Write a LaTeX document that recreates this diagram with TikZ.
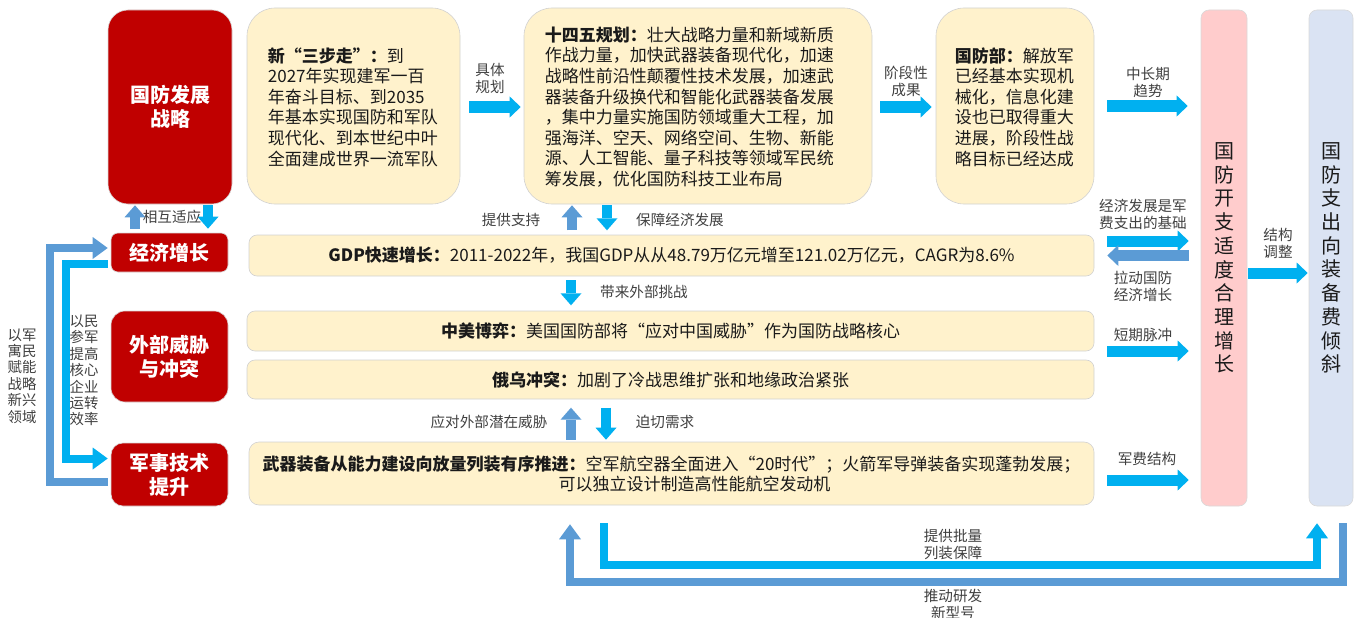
\documentclass[tikz,border=0pt]{standalone}
\usepackage{fontspec}
\setmainfont{Noto Sans CJK SC}
\usetikzlibrary{arrows.meta,calc}
\definecolor{cred}{HTML}{C00000}
\definecolor{cream}{HTML}{FFF2CC}
\definecolor{cyanb}{HTML}{00B0F0}
\definecolor{steel}{HTML}{5B9BD5}
\definecolor{pinkb}{HTML}{FFCCCC}
\definecolor{lavb}{HTML}{DAE3F3}
\definecolor{txt}{HTML}{1A1A1A}
\definecolor{lbl}{HTML}{404040}
\begin{document}
\begin{tikzpicture}[x=1pt,y=-1pt,
  redbox/.style={fill=cred, draw=black!15, line width=0.6pt, text=white, font=\bfseries\fontsize{20}{24}\selectfont, align=center, inner sep=0pt},
  creambox/.style={fill=cream, draw=black!18, line width=0.6pt, inner sep=0pt, text=txt, font=\fontsize{17}{20}\selectfont, align=center},
  bodytext/.style={text=txt, font=\fontsize{17}{20.6}\selectfont, align=left, inner sep=0pt},
  lab/.style={text=lbl, font=\fontsize{14.6}{17}\selectfont, align=center, inner sep=0pt},
  vlab/.style={text=lbl, font=\fontsize{14.4}{16.4}\selectfont, align=center, inner sep=0pt},
  bar/.style={draw=black!15, line width=0.6pt, rounded corners=8pt, inner sep=0pt, font=\fontsize{20}{23.7}\selectfont, text=txt, align=center},
  harrowc/.style={draw=cyanb, line width=11pt, -{Triangle[length=11pt,width=21pt,line width=0pt]}},
  harrows/.style={draw=steel, line width=11pt, -{Triangle[length=11pt,width=21pt,line width=0pt]}},
  varrowc/.style={draw=cyanb, line width=10pt, -{Triangle[length=12pt,width=21pt,line width=0pt]}},
  varrows/.style={draw=steel, line width=10pt, -{Triangle[length=12pt,width=21pt,line width=0pt]}},
  loopc/.style={draw=cyanb, line width=8pt, -{Triangle[length=15pt,width=22pt,line width=0pt]}},
  loops/.style={draw=steel, line width=8pt, -{Triangle[length=15pt,width=22pt,line width=0pt]}},
]
\useasboundingbox (0,0) rectangle (1361,618);

% red boxes
\node[redbox, minimum width=124pt, minimum height=194pt, rounded corners=20pt] (strat) at (170,107) {国防发展\\战略};
\node[redbox, minimum width=117pt, minimum height=39pt, rounded corners=7pt] (econ) at (169.5,252.5) {经济增长};
\node[redbox, minimum width=117pt, minimum height=91pt, rounded corners=14pt] (threat) at (169.5,356.5) {外部威胁\\与冲突};
\node[redbox, minimum width=117pt, minimum height=63pt, rounded corners=12pt] (tech) at (169.5,474.5) {军事技术\\提升};

% cream top boxes
\node[creambox, minimum width=213pt, minimum height=196pt, rounded corners=28pt] (s3) at (353.5,106) {};
\node[creambox, minimum width=348pt, minimum height=196pt, rounded corners=28pt] (plan) at (698,106) {};
\node[creambox, minimum width=158pt, minimum height=196pt, rounded corners=28pt] (mod) at (1015,106) {};
\node[bodytext, anchor=west] (s3t) at ($(s3.west)+(21,1)$) {\textbf{新“三步走”：}到\\2027年实现建军一百\\年奋斗目标、到2035\\年基本实现国防和军队\\现代化、到本世纪中叶\\全面建成世界一流军队};
\node[bodytext, anchor=west] (plant) at ($(plan.west)+(21,1)$) {\textbf{十四五规划：}壮大战略力量和新域新质\\作战力量，加快武器装备现代化，加速\\战略性前沿性颠覆性技术发展，加速武\\器装备升级换代和智能化武器装备发展\\，集中力量实施国防领域重大工程，加\\强海洋、空天、网络空间、生物、新能\\源、人工智能、量子科技等领域军民统\\筹发展，优化国防科技工业布局};
\node[bodytext, anchor=west] (modt) at ($(mod.west)+(19,1)$) {\textbf{国防部：}解放军\\已经基本实现机\\械化，信息化建\\设也已取得重大\\进展，阶段性战\\略目标已经达成};

% cream rows
\node[creambox, minimum width=845pt, minimum height=41pt, rounded corners=8pt] (gdp) at (671.5,255.5) {\textbf{GDP快速增长：}2011-2022年，我国GDP从从48.79万亿元增至121.02万亿元，CAGR为8.6\%};
\node[creambox, minimum width=847pt, minimum height=40pt, rounded corners=8pt] (usch) at (670.5,331) {\textbf{中美博弈：}美国国防部将“应对中国威胁”作为国防战略核心};
\node[creambox, minimum width=847pt, minimum height=39pt, rounded corners=8pt] (ruua) at (670.5,379.5) {\textbf{俄乌冲突：}加剧了冷战思维扩张和地缘政治紧张};
\node[creambox, minimum width=845pt, minimum height=63pt, rounded corners=10pt] (weap) at (671.5,473.5) {\textbf{武器装备从能力建设向放量列装有序推进：}空军航空器全面进入“20时代”；火箭军导弹装备实现蓬勃发展；\\\hspace*{46pt}可以独立设计制造高性能航空发动机};

% bars
\node[bar, fill=pinkb, minimum width=46pt, minimum height=496pt] (pink) at (1224,258) {国\\防\\开\\支\\适\\度\\合\\理\\增\\长};
\node[bar, fill=lavb, minimum width=44pt, minimum height=496pt] (lav) at (1331,258) {国\\防\\支\\出\\向\\装\\备\\费\\倾\\斜};

% horizontal block arrows
\draw[harrowc] ($(s3.east)+(9,1)$) -- ($(plan.west)+(-3,1)$);
\draw[harrowc] ($(plan.east)+(8,1)$) -- ($(mod.west)+(-4,1)$);
\draw[harrowc] ($(mod.east)+(13,0)$) -- ($(pink.west|-mod.east)+(-13,0)$);
\draw[harrowc] ($(gdp.east)+(13,-14.5)$) -- ($(pink.west|-gdp.east)+(-12,-14.5)$);
\draw[harrows] ($(pink.west|-gdp.east)+(-12,0)$) -- ($(gdp.east)+(13,0)$);
\draw[harrowc] ($(pink.east)+(1,15)$) -- ($(lav.west)+(-1,15)$);
\draw[harrowc] ($(usch.east)+(13,20)$) -- ($(pink.west|-usch.east)+(-12,20)$);
\draw[harrowc] ($(weap.east)+(13,6.5)$) -- ($(pink.west|-weap.east)+(-12,6.5)$);

% vertical arrows
\draw[varrows] ($(plan.south)+(-126,26)$) -- ($(plan.south)+(-126,1)$);
\draw[varrowc] ($(plan.south)+(-91,1)$) -- ($(plan.south)+(-91,26)$);
\draw[varrowc] ($(gdp.south)+(-100.5,4)$) -- ($(gdp.south)+(-100.5,29)$);
\draw[varrows] ($(weap.north)+(-100.5,-2)$) -- ($(weap.north)+(-100.5,-34)$);
\draw[varrowc] ($(weap.north)+(-65.5,-34)$) -- ($(weap.north)+(-65.5,-2)$);
\draw[varrows] ($(econ.north)+(-34.5,-4)$) -- ($(strat.south)+(-35,1)$);
\draw[varrowc] ($(strat.south)+(38,1)$) -- ($(econ.north)+(38.5,-4)$);

% left loops
\draw[loops] ($(tech.west)+(-3,7.5)$) -- ++(-58,0) |- ($(econ.west)+(-3,-4.5)$);
\draw[loopc] ($(econ.west)+(-3,11)$) -- ++(-42,0) |- ($(tech.west)+(-3,-16)$);

% bottom loops
\draw[loopc] ($(weap.south)+(-67.5,18)$) |- ($(lav.south)+(-14,59)$) -- ($(lav.south)+(-14,17)$);
\draw[loops] ($(lav.south)+(12,17)$) |- ($(weap.south)+(-101.5,77)$) -- ($(weap.south)+(-101.5,19)$);

% labels
\node[lab] (l1) at (490,78.5) {具体\\规划};
\node[lab] (l2) at (906,81.5) {阶段性\\成果};
\node[lab] (l3) at (1148,82) {中长期\\趋势};
\node[lab] (l4) at (1143,214) {经济发展是军\\费支出的基础};
\node[lab] (l5) at (1143,286) {拉动国防\\经济增长};
\node[lab] (l6) at (1278,243.5) {结构\\调整};
\node[lab] (l7) at (1143,335) {短期脉冲};
\node[lab] (l8) at (1147,459) {军费结构};
\node[lab] (l9) at (511,220) {提供支持};
\node[lab] (l10) at (680,220) {保障经济发展};
\node[lab] (l11) at (644,292) {带来外部挑战};
\node[lab] (l12) at (489,422) {应对外部潜在威胁};
\node[lab] (l13) at (665,422) {迫切需求};
\node[lab] (l14) at (172,217) {相互适应};
\node[lab] (l15) at (953,544) {提供批量\\列装保障};
\node[lab] (l16) at (953,604) {推动研发\\新型号};
\node[vlab] (l17) at (22,376) {以军\\寓民\\赋能\\战略\\新兴\\领域};
\node[vlab] (l18) at (84,370.5) {以民\\参军\\提高\\核心\\企业\\运转\\效率};
\end{tikzpicture}
\end{document}
